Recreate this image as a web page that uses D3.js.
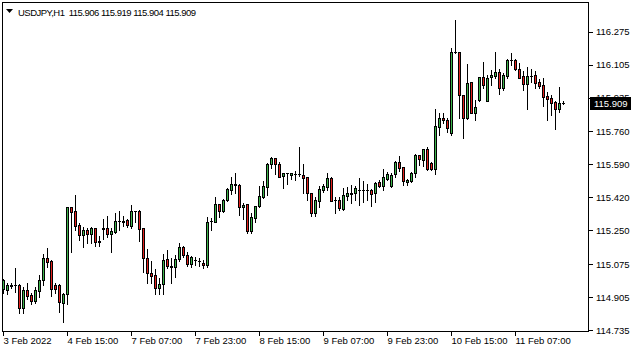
<!DOCTYPE html>
<html><head><meta charset="utf-8">
<script src="https://cdn.jsdelivr.net/npm/d3@7/dist/d3.min.js"></script>
<style>
body{margin:0;background:#fff}
svg{display:block}
text{font-family:"Liberation Sans",Arial,sans-serif;font-size:9.5px;fill:#000}
</style>
</head><body>
<svg id="chart" width="635" height="352"></svg>
<script>
const titleText = "USDJPY,H1  115.906 115.919 115.904 115.909";
const lastPrice = 115.909;

const open = [114.945,114.940,114.962,114.965,114.966,114.850,114.941,114.916,114.886,114.938,
114.993,115.107,115.093,114.967,114.967,114.873,114.919,115.368,115.349,115.275,
115.225,115.251,115.231,115.260,115.191,115.255,115.260,115.229,115.242,115.296,
115.294,115.303,115.273,115.347,115.349,115.260,115.105,115.029,115.019,114.950,
114.971,115.101,115.063,115.059,115.100,115.165,115.122,115.074,115.094,115.091,
115.081,115.070,115.298,115.294,115.384,115.349,115.404,115.458,115.486,115.483,
115.370,115.384,115.248,115.312,115.375,115.423,115.475,115.590,115.621,115.592,
115.530,115.543,115.534,115.538,115.539,115.535,115.523,115.441,115.337,115.402,
115.458,115.475,115.518,115.404,115.406,115.360,115.428,115.435,115.441,115.456,
115.458,115.457,115.458,115.441,115.501,115.478,115.514,115.480,115.539,115.601,
115.578,115.500,115.506,115.544,115.638,115.612,115.669,115.596,115.565,115.783,
115.828,115.819,115.750,116.168,116.169,115.948,115.828,116.014,115.857,115.922,
116.043,115.919,116.040,116.048,116.065,115.983,116.048,116.127,116.129,116.082,
116.046,116.005,116.047,116.051,116.017,116.000,115.943,115.931,115.914,115.876,
115.906];
const high = [114.998,114.979,114.979,115.053,114.971,114.958,114.976,114.924,114.958,115.019,
115.127,115.157,115.096,114.976,114.970,114.927,115.371,115.371,115.432,115.286,
115.268,115.260,115.268,115.263,115.220,115.308,115.323,115.260,115.337,115.349,
115.323,115.308,115.380,115.350,115.354,115.262,115.153,115.091,115.050,115.002,
115.127,115.148,115.108,115.122,115.182,115.169,115.136,115.117,115.113,115.107,
115.096,115.317,115.315,115.420,115.385,115.411,115.468,115.526,115.544,115.489,
115.392,115.385,115.337,115.376,115.478,115.504,115.596,115.627,115.623,115.604,
115.545,115.546,115.548,115.556,115.681,115.592,115.525,115.442,115.420,115.478,
115.489,115.544,115.523,115.420,115.420,115.466,115.475,115.483,115.478,115.518,
115.506,115.489,115.463,115.501,115.509,115.565,115.552,115.548,115.607,115.633,
115.579,115.512,115.549,115.644,115.640,115.671,115.681,115.604,115.876,115.854,
115.854,115.828,116.189,116.335,116.170,115.949,116.108,116.017,115.922,116.043,
116.119,116.051,116.077,116.169,116.082,116.060,116.133,116.163,116.134,116.112,
116.074,116.094,116.082,116.074,116.029,116.034,115.965,115.948,115.917,115.991,
115.919];
const low = [114.927,114.922,114.950,114.933,114.821,114.821,114.895,114.869,114.873,114.907,
114.967,115.059,114.910,114.924,114.829,114.778,114.869,115.139,115.251,115.200,
115.165,115.182,115.182,115.169,115.169,115.203,115.213,115.139,115.234,115.251,
115.272,115.265,115.263,115.294,115.196,115.033,114.976,114.979,114.919,114.919,
114.919,115.053,114.979,115.010,115.093,115.113,115.065,115.062,115.070,115.065,
115.053,115.060,115.251,115.292,115.320,115.344,115.401,115.437,115.444,115.329,
115.306,115.234,115.234,115.294,115.368,115.415,115.432,115.570,115.540,115.523,
115.470,115.489,115.513,115.509,115.532,115.441,115.406,115.323,115.323,115.371,
115.449,115.458,115.400,115.340,115.354,115.354,115.406,115.389,115.406,115.380,
115.397,115.406,115.375,115.397,115.472,115.458,115.509,115.475,115.526,115.557,
115.483,115.483,115.500,115.526,115.587,115.583,115.561,115.561,115.539,115.742,
115.802,115.759,115.742,116.163,115.828,115.728,115.823,115.854,115.819,115.919,
115.984,115.917,116.000,116.034,115.952,115.974,116.034,116.103,116.077,116.034,
115.974,115.876,116.017,115.983,115.983,115.891,115.819,115.845,115.771,115.862,
115.904];
const close = [114.993,114.966,114.967,114.966,114.850,114.941,114.912,114.886,114.941,114.993,
115.107,115.084,114.948,114.948,114.878,114.921,115.368,115.346,115.273,115.225,
115.251,115.231,115.263,115.191,115.192,115.260,115.229,115.246,115.298,115.298,
115.300,115.275,115.349,115.349,115.255,115.105,115.029,115.016,114.950,114.971,
115.096,115.065,115.062,115.101,115.165,115.122,115.074,115.110,115.096,115.089,
115.070,115.294,115.299,115.384,115.351,115.406,115.463,115.487,115.487,115.371,
115.378,115.248,115.317,115.375,115.427,115.478,115.592,115.621,115.590,115.526,
115.544,115.544,115.547,115.539,115.540,115.521,115.441,115.337,115.406,115.463,
115.478,115.518,115.402,115.406,115.363,115.432,115.441,115.442,115.466,115.458,
115.457,115.458,115.435,115.495,115.478,115.526,115.540,115.535,115.604,115.570,
115.504,115.508,115.544,115.638,115.616,115.669,115.565,115.565,115.787,115.828,
115.819,115.776,116.169,116.169,115.948,115.828,116.009,115.857,115.885,116.040,
115.998,116.034,116.051,116.065,115.983,116.051,116.129,116.129,116.081,116.037,
116.005,116.046,116.048,116.012,115.996,115.939,115.926,115.908,115.876,115.908,
115.909];

const yTicks = [116.275,116.105,115.935,115.760,115.590,115.420,115.250,115.075,114.905,114.735];
const xTickBars = [0,16,32,48,64,80,96,112,128];
const xTickLabels = ["3 Feb 2022","4 Feb 15:00","7 Feb 07:00","7 Feb 23:00","8 Feb 15:00","9 Feb 07:00","9 Feb 23:00","10 Feb 15:00","11 Feb 07:00"];

const bars = d3.range(open.length).map(i => ({i, o:open[i], h:high[i], l:low[i], c:close[i]}));

const UP = "#3cb44a", DOWN = "#e3211d";
const svg = d3.select("#chart");

const x = d3.scaleLinear().domain([0, 140]).range([3.5, 563.5]);
const y = d3.scaleLinear().domain([114.735, 116.275]).range([330, 31.7]);
const py = v => Math.round(y(v)) + 0.5;

// frame
svg.append("rect").attr("x",2.5).attr("y",2.5).attr("width",586).attr("height",329)
  .attr("fill","none").attr("stroke","#000").attr("stroke-width",1).attr("shape-rendering","crispEdges");

// candles
const g = svg.append("g").attr("shape-rendering","crispEdges");
const cg = g.selectAll("g.c").data(bars).join("g").attr("class","c");
cg.append("line")
  .attr("x1", d => x(d.i)).attr("x2", d => x(d.i))
  .attr("y1", d => Math.round(y(d.h))).attr("y2", d => Math.round(y(d.l)) + 1)
  .attr("stroke","#000");
cg.each(function(d){
  const s = d3.select(this);
  const t = Math.round(y(Math.max(d.o,d.c))), b = Math.round(y(Math.min(d.o,d.c)));
  if (b - t < 1) {
    s.append("line").attr("x1", x(d.i)-1.5).attr("x2", x(d.i)+1.5)
      .attr("y1", t+0.5).attr("y2", t+0.5).attr("stroke","#000");
  } else {
    s.append("rect").attr("x", x(d.i)-1).attr("y", t+0.5)
      .attr("width", 2).attr("height", b - t)
      .attr("fill", d.c >= d.o ? UP : DOWN).attr("stroke","#000");
  }
});

// y axis
const ya = svg.append("g");
ya.selectAll("line").data(yTicks).join("line")
  .attr("x1",589).attr("x2",593).attr("y1",d=>py(d)).attr("y2",d=>py(d))
  .attr("stroke","#000").attr("shape-rendering","crispEdges");
ya.selectAll("text").data(yTicks).join("text")
  .attr("x",596).attr("y",d=>y(d)+3.5).text(d=>d.toFixed(3));

// current price marker
svg.append("rect").attr("x",590).attr("y",Math.round(y(lastPrice))-6).attr("width",41).attr("height",13).attr("fill","#000");
svg.append("text").attr("x",594).attr("y",Math.round(y(lastPrice))+3.5).style("fill","#fff").text(lastPrice.toFixed(3));

// x axis
const xa = svg.append("g");
xa.selectAll("line").data(xTickBars).join("line")
  .attr("x1",d=>x(d)).attr("x2",d=>x(d)).attr("y1",331).attr("y2",336)
  .attr("stroke","#000").attr("shape-rendering","crispEdges");
xa.selectAll("text").data(xTickBars).join("text")
  .attr("x",d=>x(d)).attr("y",344).text((d,k)=>xTickLabels[k]);

// title
svg.append("path").attr("d","M6,9 L13,9 L9.5,13 Z").attr("fill","#000");
svg.append("text").attr("x",18).attr("y",15.5).style("white-space","pre")
  .attr("textLength",178).attr("lengthAdjust","spacing").text(titleText);
</script>
</body></html>
